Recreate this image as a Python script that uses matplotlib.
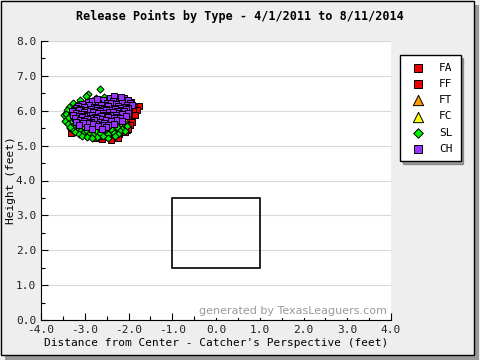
import numpy as np
import matplotlib.pyplot as plt
from matplotlib.patches import Rectangle

# release points (feet)
fa_pts = [(-1.82, 6.07), (-2.03, 5.44), (-2.27, 5.31)]
ff_pts = [(-1.76, 6.14), (-1.87, 6.11), (-1.81, 6.01), (-1.93, 5.96), (-1.96, 5.84),
          (-2.02, 5.77), (-1.91, 5.69), (-2.06, 5.63), (-1.97, 5.58), (-2.12, 5.54),
          (-2.01, 5.49), (-2.17, 5.46), (-2.07, 5.38), (-2.21, 5.34), (-2.32, 5.29),
          (-2.47, 5.24), (-2.61, 5.19), (-2.77, 5.23), (-2.92, 5.27), (-2.41, 5.16),
          (-2.24, 5.21), (-1.86, 5.88), (-2.11, 6.21), (-1.94, 6.26), (-3.38, 5.95),
          (-3.31, 5.36), (-2.56, 5.31), (-1.89, 6.04), (-2.68, 5.27), (-2.14, 5.61)]
ft_pts = [(-2.52, 5.41)]
fc_pts = [(-2.09, 5.74), (-2.16, 5.67)]
sl_pts = [(-2.65, 6.62), (-3.47, 5.87), (-2.93, 6.47),
          (-2.97, 6.41), (-2.74, 6.37), (-2.56, 6.39),
          (-3.12, 6.31), (-2.83, 6.28), (-2.44, 6.33),
          (-3.26, 6.22), (-3.02, 6.18), (-2.51, 6.24),
          (-3.36, 6.11), (-3.09, 6.08), (-3.18, 6.16),
          (-3.41, 6.02), (-3.22, 5.99), (-2.96, 6.03),
          (-3.44, 5.91), (-3.31, 5.88), (-3.06, 5.93), (-2.39, 5.92),
          (-3.39, 5.79), (-3.24, 5.83), (-3.11, 5.77), (-2.76, 5.81), (-2.19, 5.82),
          (-3.46, 5.71), (-3.29, 5.68), (-3.16, 5.72), (-2.94, 5.69), (-2.54, 5.71), (-2.11, 5.66),
          (-3.38, 5.61), (-3.26, 5.57), (-3.04, 5.62), (-2.86, 5.59), (-2.64, 5.61), (-2.29, 5.58), (-2.04, 5.57),
          (-3.34, 5.51), (-3.19, 5.48), (-3.01, 5.52), (-2.88, 5.47), (-2.71, 5.51), (-2.49, 5.49), (-2.26, 5.52), (-2.14, 5.49),
          (-3.28, 5.44), (-3.11, 5.43), (-2.79, 5.46), (-2.62, 5.43), (-2.38, 5.46), (-2.19, 5.43),
          (-3.23, 5.39), (-3.04, 5.37), (-2.96, 5.41), (-2.74, 5.38), (-2.57, 5.39), (-2.34, 5.37), (-2.09, 5.41),
          (-3.14, 5.33), (-2.91, 5.34), (-2.66, 5.36), (-2.46, 5.32), (-2.23, 5.34),
          (-3.07, 5.29), (-2.81, 5.31), (-2.59, 5.27), (-2.31, 5.27),
          (-2.96, 5.24), (-2.72, 5.26), (-2.48, 5.23), (-2.84, 5.21),
          (-2.61, 5.96), (-2.29, 6.12), (-1.99, 6.01), (-2.21, 5.86), (-2.86, 6.14),
          (-2.36, 5.64), (-3.33, 5.54), (-3.18, 5.64), (-2.98, 5.79)]
ch_pts = [(-2.43, 6.37), (-2.26, 6.34), (-2.11, 6.36), (-2.33, 6.41),
          (-2.77, 6.29), (-2.58, 6.32), (-2.36, 6.27), (-2.02, 6.31),
          (-2.93, 6.24), (-2.84, 6.27), (-2.49, 6.23), (-2.21, 6.26), (-1.96, 6.21),
          (-3.06, 6.19), (-2.69, 6.22), (-2.54, 6.17), (-2.41, 6.21), (-2.28, 6.18), (-2.14, 6.22), (-2.04, 6.17),
          (-3.16, 6.14), (-2.91, 6.16), (-2.79, 6.12), (-2.64, 6.16), (-2.46, 6.13), (-2.24, 6.14), (-2.09, 6.12), (-1.91, 6.16),
          (-3.21, 6.08), (-3.01, 6.11), (-2.74, 6.07), (-2.61, 6.09), (-2.52, 6.06), (-2.34, 6.09), (-2.19, 6.07), (-2.01, 6.09),
          (-3.24, 6.03), (-3.11, 6.06), (-2.96, 6.02), (-2.86, 6.05), (-2.71, 6.03), (-2.56, 6.04), (-2.39, 6.02), (-2.31, 6.06), (-2.16, 6.03), (-2.06, 6.04),
          (-3.29, 5.98), (-3.14, 6.01), (-3.02, 5.97), (-2.89, 5.99), (-2.66, 5.98), (-2.51, 6.01), (-2.44, 5.97), (-2.26, 5.99), (-2.11, 5.98),
          (-3.19, 5.94), (-3.04, 5.92), (-2.81, 5.96), (-2.69, 5.93), (-2.59, 5.94), (-2.36, 5.96), (-2.21, 5.93), (-2.01, 5.94),
          (-3.28, 5.88), (-3.09, 5.91), (-2.94, 5.87), (-2.84, 5.89), (-2.56, 5.88), (-2.41, 5.89), (-2.29, 5.87), (-2.16, 5.91),
          (-3.14, 5.84), (-3.01, 5.86), (-2.76, 5.83), (-2.64, 5.86), (-2.49, 5.84), (-2.26, 5.83), (-2.06, 5.86),
          (-3.23, 5.79), (-3.06, 5.81), (-2.89, 5.78), (-2.71, 5.79), (-2.46, 5.81), (-2.34, 5.78), (-2.19, 5.79),
          (-3.11, 5.74), (-2.94, 5.76), (-2.79, 5.73), (-2.61, 5.76), (-2.51, 5.73), (-2.29, 5.74),
          (-3.19, 5.69), (-3.01, 5.71), (-2.86, 5.68), (-2.66, 5.69), (-2.39, 5.71), (-2.16, 5.72),
          (-3.04, 5.64), (-2.91, 5.66), (-2.74, 5.63), (-2.56, 5.64), (-2.34, 5.62),
          (-3.14, 5.59), (-2.81, 5.61), (-2.59, 5.58), (-2.46, 5.59),
          (-2.96, 5.54), (-2.69, 5.56), (-2.51, 5.53),
          (-2.84, 5.49), (-2.61, 5.48), (-2.73, 6.34), (-2.18, 6.39)]

pitch_types = ['FA', 'FF', 'FT', 'FC', 'SL', 'CH']
pitch_data = [fa_pts, ff_pts, ft_pts, fc_pts, sl_pts, ch_pts]
colors = ['#ee0000', '#ee0000', '#ff9900', '#ffff00', '#00ee00', '#9933ff']
markers = ['s', 's', '^', '^', 'D', 's']
sizes = [22, 22, 30, 30, 13, 22]

plt.rcParams['font.family'] = ['DejaVu Sans Mono']
fig = plt.figure(figsize=(4.8, 3.6), dpi=100, facecolor='#eeeeee')

# outer frame with shadow
fig.patches.append(Rectangle((5 / 480, 0), 474 / 480, 355 / 360, transform=fig.transFigure,
                             facecolor='#999999', edgecolor='none', zorder=-2))
fig.patches.append(Rectangle((1 / 480, 5 / 360), 473 / 480, 354 / 360, transform=fig.transFigure,
                             facecolor='#eeeeee', edgecolor='black', lw=1, zorder=-1))

ax = fig.add_axes([41 / 480, 40 / 360, 350 / 480, 279 / 360])
ax.set_facecolor('white')

for t, pts, c, m, s in zip(pitch_types, pitch_data, colors, markers, sizes):
    arr = np.array(pts)
    ax.scatter(arr[:, 0], arr[:, 1], c=c, marker=m, s=s, edgecolors='black',
               linewidths=0.7, label=t, zorder=3)

# strike zone
ax.add_patch(Rectangle((-1.0, 1.5), 2.0, 2.0, fill=False, edgecolor='black', lw=1.2, zorder=2))

ax.set_xlim(-4, 4)
ax.set_ylim(0, 8)
ax.set_xticks(np.arange(-4, 4.1, 1))
ax.set_yticks(np.arange(0, 8.1, 1))
ax.set_xticks(np.arange(-4, 4.1, 0.5), minor=True)
ax.set_yticks(np.arange(0, 8.1, 0.5), minor=True)
ax.set_xticklabels([f'{v:.1f}' for v in np.arange(-4, 4.1, 1)])
ax.set_yticklabels([f'{v:.1f}' for v in np.arange(0, 8.1, 1)])
ax.tick_params(direction='in', length=5, width=0.8, labelsize=8, color='black', labelcolor='#222222')
ax.tick_params(which='minor', direction='in', length=3, width=0.8)
ax.grid(axis='y', color='#d8d8d8', lw=0.8, zorder=0)
ax.set_axisbelow(True)
for side in ['top', 'right']:
    ax.spines[side].set_visible(False)

ax.set_xlabel("Distance from Center - Catcher's Perspective (feet)", fontsize=8, labelpad=2)
ax.set_ylabel('Height (feet)', fontsize=8, labelpad=0)
fig.text(0.5, 0.955, 'Release Points by Type - 4/1/2011 to 8/11/2014',
         ha='center', va='center', fontsize=8.5, fontweight='bold')

ax.text(3.9, 0.25, 'generated by TexasLeaguers.com', ha='right', va='center',
        fontsize=8, color='#999999', family='DejaVu Sans',
        bbox=dict(facecolor='white', edgecolor='none', pad=1), zorder=4)

leg = fig.legend(loc='upper left', bbox_to_anchor=(397 / 480, 308 / 360), frameon=True,
                 fancybox=False, shadow=True, fontsize=8, handletextpad=1.0,
                 labelspacing=0.55, borderpad=0.7, borderaxespad=0.3, handlelength=1.8,
                 scatterpoints=1, markerscale=1.35)
leg.get_frame().set_edgecolor('black')
leg.get_frame().set_linewidth(1)

plt.savefig('out.png', dpi=100, facecolor=fig.get_facecolor())
